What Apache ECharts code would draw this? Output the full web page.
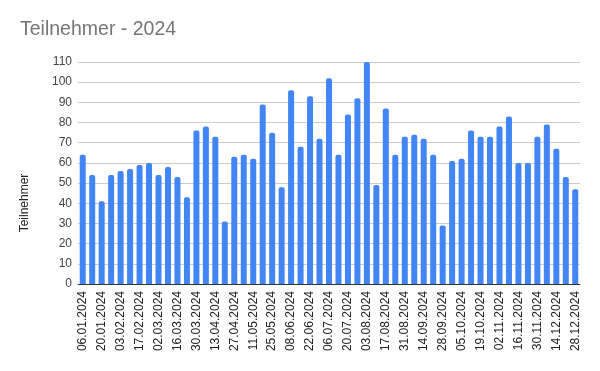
<!DOCTYPE html>
<html>
<head>
<meta charset="utf-8">
<script src="https://cdn.jsdelivr.net/npm/echarts@6/dist/echarts.min.js"></script>
<style>
html,body{margin:0;padding:0;background:#fff;}
#c{width:600px;height:371px;}
</style>
</head>
<body>
<div id="c"></div>
<script>
const dates = [
  "06.01.2024","13.01.2024","20.01.2024","27.01.2024","03.02.2024","10.02.2024","17.02.2024","24.02.2024",
  "02.03.2024","09.03.2024","16.03.2024","23.03.2024","30.03.2024","06.04.2024","13.04.2024","20.04.2024",
  "27.04.2024","04.05.2024","11.05.2024","18.05.2024","25.05.2024","01.06.2024","08.06.2024","15.06.2024",
  "22.06.2024","29.06.2024","06.07.2024","13.07.2024","20.07.2024","27.07.2024","03.08.2024","10.08.2024",
  "17.08.2024","24.08.2024","31.08.2024","07.09.2024","14.09.2024","21.09.2024","28.09.2024","03.10.2024",
  "05.10.2024","12.10.2024","19.10.2024","26.10.2024","02.11.2024","09.11.2024","16.11.2024","23.11.2024",
  "30.11.2024","07.12.2024","14.12.2024","21.12.2024","28.12.2024"
];
const teilnehmer = [
  64,54,41,54,56,57,59,60,54,58,53,43,76,78,73,31,
  63,64,62,89,75,48,96,68,93,72,102,64,84,92,110,49,
  87,64,73,74,72,64,29,61,62,76,73,73,78,83,60,60,
  73,79,67,53,47
];
const chartTitle = "Teilnehmer - 2024";
const yAxisName = "Teilnehmer";

const chart = echarts.init(document.getElementById('c'), null, {renderer:'canvas'});
chart.setOption({
  animation: false,
  backgroundColor: '#ffffff',
  title: {
    text: chartTitle,
    left: 15, top: 15,
    textStyle: {fontFamily: 'Liberation Sans, Arial, sans-serif', fontSize: 19.5, fontWeight: 'normal', color: '#757575'}
  },
  grid: {left: 78, right: 20, top: 62, bottom: 87},
  xAxis: {
    type: 'category',
    data: dates,
    axisLine: {lineStyle: {color: '#333333', width: 1}},
    axisTick: {show: false},
    axisLabel: {
      interval: 1, rotate: 90, margin: 7,
      fontFamily: 'Liberation Sans, Arial, sans-serif', fontSize: 12, color: '#222222'
    }
  },
  yAxis: {
    type: 'value',
    min: 0, max: 110, interval: 10,
    name: yAxisName,
    nameLocation: 'middle',
    nameRotate: 90,
    nameGap: 47,
    nameTextStyle: {fontFamily: 'Liberation Sans, Arial, sans-serif', fontSize: 12, color: '#222222', padding: [0, 60, 0, 0]},
    axisLine: {show: false},
    axisTick: {show: false},
    axisLabel: {fontFamily: 'Liberation Sans, Arial, sans-serif', fontSize: 12, color: '#444444', margin: 6},
    splitLine: {lineStyle: {color: '#cccccc', width: 1}}
  },
  series: [{
    type: 'bar',
    data: teilnehmer,
    barWidth: 6,
    itemStyle: {color: '#4285f4', borderRadius: [2, 2, 0, 0]}
  }]
});
</script>
</body>
</html>
